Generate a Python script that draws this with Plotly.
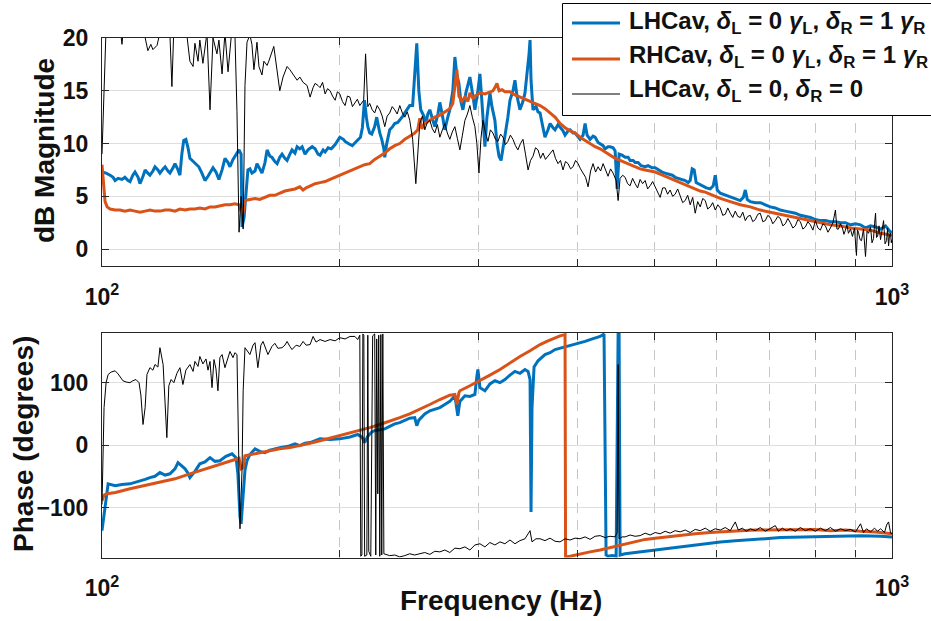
import plotly.graph_objects as go

# ---------------------------------------------------------------
# Measured frequency responses (Hz -> dB / degrees)
# ---------------------------------------------------------------
series_names = [
    "LHCav, <i>δ</i><sub>L</sub> = 0 <i>γ</i><sub>L</sub>, <i>δ</i><sub>R</sub> = 1 <i>γ</i><sub>R</sub>",
    "RHCav, <i>δ</i><sub>L</sub> = 0 <i>γ</i><sub>L</sub>, <i>δ</i><sub>R</sub> = 1 <i>γ</i><sub>R</sub>",
    "LHCav, <i>δ</i><sub>L</sub> = 0, <i>δ</i><sub>R</sub> = 0",
]

# --- LHCav, detuned right cavity: magnitude ---
f_mag_lh = [
    100.0, 101.2, 102.4, 103.3, 103.9, 104.8, 106.0, 106.9, 107.9, 108.5, 109.4, 110.1, 111.1, 111.7,
    112.7, 113.4, 114.3, 115.0, 116.0, 116.7, 117.7, 118.4, 119.5, 120.2, 121.2, 121.9, 123.0, 123.7,
    124.8, 125.5, 126.2, 126.9, 127.7, 128.5, 129.2, 130.4, 131.5, 132.6, 133.8, 135.0, 136.2, 137.0,
    138.2, 139.4, 140.6, 141.9, 143.1, 144.4, 145.2, 146.5, 147.8, 149.1, 150.0, 150.4, 151.3, 152.2,
    153.0, 153.9, 154.8, 156.2, 157.1, 158.4, 159.4, 160.8, 161.8, 163.1, 164.1, 165.5, 166.6, 167.9,
    169.0, 170.4, 171.5, 172.9, 174.0, 175.5, 176.6, 178.0, 179.2, 180.7, 182.3, 184.5, 186.1, 187.7,
    188.8, 190.5, 191.6, 193.3, 195.1, 197.3, 199.1, 200.0, 202.1, 203.1, 205.0, 207.4, 209.8, 212.4,
    213.6, 214.9, 216.1, 217.0, 218.2, 219.5, 221.4, 222.7, 224.7, 226.0, 227.4, 228.0, 229.3, 231.3,
    233.3, 234.7, 236.8, 238.2, 240.3, 241.7, 243.8, 245.2, 247.3, 248.8, 250.3, 251.8, 253.2, 255.5,
    257.0, 258.5, 260.0, 262.3, 263.8, 266.2, 267.7, 270.1, 271.6, 274.0, 275.6, 278.0, 279.7, 281.3,
    283.0, 284.6, 286.3, 288.8, 290.5, 292.2, 294.8, 296.5, 299.1, 300.9, 302.6, 304.4, 305.3, 307.1,
    309.8, 311.6, 314.3, 316.2, 318.1, 320.0, 321.8, 323.6, 326.4, 328.4, 331.3, 333.2, 335.2, 338.1,
    341.1, 343.1, 345.1, 347.2, 348.2, 349.2, 351.2, 354.3, 356.4, 358.5, 361.6, 363.7, 366.9, 369.1,
    372.3, 374.5, 377.8, 380.0, 383.3, 385.6, 389.0, 391.3, 394.7, 397.0, 400.5, 402.8, 406.4, 408.8,
    411.2, 414.8, 418.4, 420.9, 424.6, 427.1, 430.8, 433.3, 437.1, 439.7, 443.6, 446.2, 448.8, 451.4,
    455.4, 459.4, 463.4, 466.1, 470.2, 473.0, 477.1, 481.3, 487.0, 491.2, 497.0, 501.4, 505.8, 511.7,
    516.2, 520.8, 527.1, 531.5, 536.2, 542.5, 547.3, 552.1, 555.3, 558.6, 561.8, 565.1, 571.8, 576.9,
    582.0, 588.7, 593.9, 597.4, 600.9, 606.2, 611.5, 616.9, 624.1, 629.6, 635.2, 642.6, 648.3, 652.1,
    655.9, 661.6, 671.4, 681.2, 691.2, 701.4, 711.7, 722.2, 732.8, 743.6, 754.5, 765.6, 776.9, 788.3,
    799.9, 811.6, 823.6, 835.7, 848.0, 860.5, 873.1, 886.0, 899.0, 912.3, 925.7, 939.3, 953.2, 967.2,
    981.4, 995.9, 1000.0,
]
mag_lh = [
    7.3, 7.2, 7.0, 6.8, 6.5, 6.7, 6.6, 6.8, 6.5, 6.4, 7.0, 7.3, 6.8, 6.2,
    6.9, 7.5, 7.2, 7.0, 7.4, 7.8, 7.5, 7.2, 7.6, 7.8, 7.4, 7.2, 7.7, 8.1,
    7.5, 7.0, 9.0, 10.3, 10.4, 9.6, 8.6, 8.3, 8.0, 7.8, 7.2, 6.5, 6.9, 7.2,
    7.7, 7.3, 6.6, 7.5, 8.6, 8.2, 7.8, 8.5, 8.9, 9.4, 9.0, 2.1, 3.0, 5.5,
    7.5, 7.6, 7.2, 7.4, 8.1, 7.6, 7.2, 8.2, 9.4, 8.8, 8.7, 8.3, 8.1, 8.7,
    9.0, 8.6, 8.4, 9.0, 9.4, 9.1, 9.7, 9.5, 9.7, 9.0, 9.4, 9.7, 9.5, 9.0,
    8.9, 9.4, 9.2, 9.6, 9.5, 9.9, 10.3, 10.6, 10.4, 10.2, 10.0, 9.8, 10.2, 10.6,
    11.5, 14.1, 12.5, 11.6, 11.0, 10.9, 11.6, 12.5, 11.0, 10.4, 9.5, 8.7, 10.0, 11.3,
    11.6, 11.9, 12.0, 12.2, 12.6, 12.9, 13.3, 13.6, 13.6, 17.0, 19.5, 15.0, 13.2, 12.6,
    11.9, 12.8, 13.2, 12.2, 11.6, 12.8, 13.9, 12.4, 11.3, 12.5, 13.2, 15.0, 18.2, 16.5,
    15.7, 14.0, 13.2, 14.8, 15.5, 16.3, 14.5, 13.2, 15.0, 16.6, 14.0, 11.0, 9.7, 12.5,
    14.8, 13.5, 12.2, 10.0, 8.8, 8.4, 9.5, 10.4, 12.5, 14.1, 15.0, 16.0, 14.5, 13.2,
    14.0, 14.8, 16.5, 18.5, 19.8, 16.0, 13.2, 13.5, 13.0, 12.9, 11.5, 10.6, 11.3, 11.9,
    11.5, 11.3, 11.8, 11.6, 11.2, 10.8, 11.2, 11.3, 11.0, 11.0, 10.6, 10.4, 10.8, 11.9,
    10.8, 10.4, 10.7, 10.6, 10.1, 10.0, 9.8, 9.5, 9.7, 9.7, 9.6, 9.3, 5.7, 9.0,
    8.9, 8.7, 8.7, 8.4, 8.4, 8.2, 8.2, 7.9, 7.8, 7.9, 7.7, 7.7, 7.5, 7.3,
    7.2, 7.1, 7.0, 6.8, 6.7, 6.6, 6.5, 6.3, 6.5, 7.6, 7.5, 6.3, 6.1, 6.0,
    5.8, 5.7, 6.0, 7.0, 5.6, 5.3, 5.2, 5.1, 4.9, 4.8, 4.7, 4.6, 4.9, 5.6,
    4.7, 4.5, 4.4, 4.4, 4.2, 4.0, 3.9, 3.7, 3.6, 3.5, 3.4, 3.2, 3.1, 3.0,
    2.8, 2.7, 2.7, 2.6, 2.6, 2.5, 2.5, 2.3, 2.4, 2.3, 2.0, 2.2, 2.1, 1.9,
    2.2, 1.6, 1.7,
]

# --- RHCav, detuned right cavity: magnitude ---
f_mag_rh = [
    100.0, 100.3, 100.6, 100.9, 101.5, 102.4, 103.9, 105.4, 106.9, 108.5, 110.1, 111.7, 113.4, 115.0,
    116.7, 118.4, 120.2, 121.9, 123.7, 125.5, 127.4, 129.2, 131.1, 133.0, 135.0, 137.0, 139.0, 141.0,
    143.1, 145.2, 147.3, 149.1, 150.0, 150.9, 151.7, 153.9, 156.2, 158.4, 160.8, 163.1, 165.5, 167.9,
    170.4, 172.9, 175.5, 178.0, 179.7, 181.3, 183.4, 186.1, 188.8, 191.6, 194.4, 197.3, 200.0, 203.1,
    206.0, 209.0, 212.0, 215.0, 218.2, 221.4, 224.7, 228.0, 231.3, 234.7, 238.2, 241.7, 245.2, 248.8,
    251.0, 252.5, 254.0, 256.2, 260.0, 263.8, 267.7, 271.6, 275.6, 278.0, 279.7, 281.3, 283.0, 285.4,
    288.0, 290.5, 292.2, 294.8, 296.5, 300.9, 305.3, 309.8, 312.5, 314.3, 316.2, 318.1, 320.9, 323.6,
    328.4, 333.2, 338.1, 343.1, 348.2, 353.3, 358.5, 363.7, 369.1, 374.5, 380.0, 385.6, 391.3, 397.0,
    402.8, 408.8, 414.8, 420.9, 427.1, 433.3, 439.7, 446.2, 452.7, 459.4, 466.1, 473.0, 479.9, 487.0,
    494.1, 501.4, 508.8, 516.2, 523.8, 531.5, 539.3, 547.3, 555.3, 563.5, 571.8, 580.2, 588.7, 597.4,
    606.2, 624.1, 642.6, 661.6, 681.2, 701.4, 722.2, 743.6, 765.6, 788.3, 811.6, 835.7, 860.5, 886.0,
    912.3, 939.3, 967.2, 1000.0,
]
mag_rh = [
    8.0, 7.0, 5.5, 4.5, 4.0, 3.8, 3.7, 3.7, 3.6, 3.7, 3.6, 3.5, 3.6, 3.7,
    3.6, 3.6, 3.7, 3.7, 3.6, 3.8, 3.7, 3.8, 3.8, 3.9, 3.8, 4.0, 4.0, 4.1,
    4.2, 4.2, 4.3, 4.2, 3.6, 3.5, 4.6, 4.7, 4.8, 4.7, 4.9, 5.1, 5.1, 5.3,
    5.5, 5.6, 5.7, 5.9, 5.6, 5.8, 6.0, 6.2, 6.3, 6.4, 6.6, 6.8, 7.0, 7.2,
    7.4, 7.6, 7.8, 8.0, 8.1, 8.5, 8.8, 9.1, 9.5, 9.8, 10.0, 10.4, 10.7, 11.0,
    11.3, 12.4, 11.4, 11.9, 12.2, 12.5, 12.7, 13.0, 13.3, 13.8, 15.5, 17.0, 14.5, 14.0,
    14.4, 14.0, 14.8, 14.3, 14.5, 14.8, 14.7, 14.9, 15.0, 15.3, 15.7, 15.0, 15.1, 14.9,
    14.9, 14.6, 14.4, 14.2, 14.0, 13.8, 13.6, 13.3, 12.9, 12.5, 11.9, 11.5, 11.2, 11.0,
    10.6, 10.3, 10.0, 9.7, 9.5, 9.2, 8.9, 8.6, 8.4, 8.2, 8.0, 7.8, 7.6, 7.5,
    7.4, 7.3, 7.1, 6.9, 6.7, 6.5, 6.3, 6.1, 5.9, 5.7, 5.5, 5.4, 5.2, 5.0,
    4.8, 4.5, 4.2, 4.0, 3.7, 3.5, 3.3, 3.1, 2.9, 2.7, 2.5, 2.3, 2.2, 2.0,
    1.9, 1.8, 1.5, 1.3,
]

# --- LHCav, no detuning: magnitude ---
f_mag_lh0 = [
    100.0, 100.6, 101.2, 103.3, 105.4, 106.0, 106.6, 109.4, 112.7, 114.3, 115.3, 116.0, 117.4, 118.4,
    120.8, 121.9, 122.6, 123.3, 125.5, 128.1, 129.2, 130.4, 131.1, 132.3, 133.0, 134.2, 135.8, 137.0,
    138.2, 139.8, 140.6, 141.9, 143.1, 144.4, 146.1, 147.3, 148.2, 149.1, 150.0, 150.9, 151.7, 152.6,
    153.9, 154.8, 155.7, 157.1, 158.0, 159.4, 160.3, 161.8, 162.6, 165.0, 166.6, 167.9, 169.5, 171.5,
    172.9, 174.5, 176.6, 178.0, 179.7, 181.8, 183.4, 185.0, 186.1, 187.7, 188.8, 190.2, 191.6, 193.0,
    194.4, 195.8, 197.3, 198.6, 200.0, 201.5, 203.1, 204.5, 206.0, 207.5, 209.0, 210.5, 212.0, 214.4,
    215.6, 217.0, 218.2, 219.8, 221.4, 223.0, 224.7, 226.3, 228.0, 229.6, 231.3, 233.0, 234.7, 236.4,
    238.2, 240.0, 241.7, 243.5, 245.2, 247.3, 249.6, 251.0, 252.5, 254.4, 256.2, 258.1, 260.0, 261.9,
    263.8, 265.8, 267.7, 269.7, 271.6, 273.6, 275.6, 277.6, 279.7, 281.7, 283.8, 285.9, 288.0, 290.1,
    292.2, 294.3, 296.5, 298.2, 300.0, 301.8, 303.5, 305.8, 308.0, 310.2, 312.5, 314.8, 317.1, 319.5,
    321.8, 324.1, 326.4, 328.8, 331.3, 333.7, 336.1, 338.6, 341.1, 343.6, 346.2, 348.7, 351.2, 353.8,
    356.4, 359.0, 361.6, 364.2, 366.9, 369.6, 372.3, 375.0, 377.8, 380.5, 383.3, 386.1, 389.0, 391.8,
    394.7, 397.6, 400.5, 403.4, 406.4, 409.4, 412.4, 415.4, 418.4, 421.5, 424.6, 427.7, 430.8, 433.9,
    437.1, 440.3, 443.6, 447.5, 450.1, 452.7, 456.1, 459.4, 462.7, 466.1, 469.5, 473.0, 476.4, 479.9,
    483.4, 487.0, 490.6, 494.1, 497.8, 501.4, 505.1, 508.8, 512.5, 516.2, 520.0, 523.8, 527.6, 531.5,
    535.4, 539.3, 543.3, 547.3, 551.3, 555.3, 559.4, 563.5, 567.6, 571.8, 576.0, 580.2, 584.4, 588.7,
    593.0, 597.4, 601.8, 606.2, 610.6, 615.1, 619.6, 624.1, 628.7, 633.3, 637.9, 642.6, 647.3, 652.1,
    656.8, 661.6, 666.5, 671.4, 676.3, 681.2, 686.2, 691.2, 696.3, 701.4, 706.5, 711.7, 716.9, 722.2,
    727.5, 732.8, 738.2, 743.6, 749.0, 754.5, 760.0, 765.6, 771.2, 776.9, 782.6, 788.3, 794.1, 799.9,
    805.7, 811.6, 817.6, 823.6, 829.6, 835.7, 841.8, 848.0, 851.7, 855.5, 860.5, 865.5, 869.3, 873.1,
    876.9, 880.8, 886.0, 891.2, 896.4, 901.6, 904.2, 906.9, 911.0, 915.0, 920.3, 925.7, 929.8, 933.8,
    939.3, 943.4, 947.6, 950.4, 953.2, 955.9, 958.8, 963.0, 967.2, 971.5, 975.7, 980.0, 984.3, 987.2,
    990.1, 993.0, 995.9, 998.0, 1000.0,
]
mag_lh0 = [
    9.0, 15.0, 21.0, 22.0, 21.0, 19.4, 21.5, 23.0, 21.0, 18.8, 19.4, 18.9, 19.3, 20.5,
    22.0, 20.3, 15.4, 21.0, 22.0, 20.2, 17.8, 17.3, 19.5, 17.8, 19.8, 17.6, 20.5, 13.2,
    20.0, 18.5, 19.8, 16.6, 20.5, 16.8, 21.0, 20.5, 13.0, 1.6, 5.0, 1.9, 15.5, 19.6,
    20.3, 19.4, 17.0, 19.6, 17.3, 16.5, 17.8, 17.4, 17.8, 19.2, 17.0, 15.0, 16.3, 17.3,
    17.0, 16.6, 16.0, 16.3, 15.8, 15.5, 14.4, 15.3, 15.7, 15.5, 15.3, 15.8, 14.7, 15.2,
    15.0, 14.5, 14.1, 14.9, 14.7, 14.0, 13.6, 14.5, 14.4, 13.5, 13.8, 14.2, 13.6, 14.1,
    18.5, 13.5, 13.8, 13.2, 12.9, 13.6, 13.2, 12.6, 11.6, 12.6, 12.9, 13.5, 13.2, 12.8,
    13.6, 12.9, 12.5, 13.0, 12.2, 10.4, 6.2, 9.5, 11.9, 12.6, 11.3, 12.0, 12.2, 11.4,
    11.0, 11.8, 10.6, 11.3, 11.9, 11.0, 10.4, 11.1, 11.6, 10.5, 9.4, 10.8, 12.2, 12.8,
    13.6, 12.5, 11.6, 10.0, 7.2, 10.5, 12.2, 11.0, 10.2, 11.3, 11.0, 10.4, 10.2, 10.9,
    10.6, 9.9, 10.2, 10.8, 10.4, 9.8, 9.4, 10.0, 10.4, 9.0, 7.5, 8.4, 8.8, 9.6,
    9.4, 8.6, 9.1, 8.5, 8.8, 9.2, 9.4, 8.6, 8.1, 8.4, 7.5, 8.3, 8.1, 7.6,
    7.8, 8.4, 8.1, 7.6, 7.2, 6.8, 5.9, 7.4, 8.1, 7.3, 7.8, 7.4, 8.1, 7.4,
    6.9, 7.6, 7.2, 6.5, 4.6, 6.7, 7.0, 6.8, 6.2, 6.0, 6.7, 6.2, 5.8, 6.6,
    6.2, 6.5, 5.7, 6.0, 6.4, 5.9, 5.4, 4.9, 5.8, 5.8, 5.2, 5.6, 5.0, 5.2,
    5.7, 5.0, 4.4, 4.6, 5.1, 4.2, 4.9, 3.4, 4.5, 4.0, 4.8, 4.6, 3.8, 4.0,
    4.4, 3.7, 4.2, 3.9, 3.2, 3.3, 3.9, 3.4, 3.0, 3.6, 3.1, 3.0, 3.5, 2.7,
    3.1, 3.2, 2.6, 2.8, 3.3, 3.4, 2.6, 2.7, 3.2, 3.0, 2.4, 2.7, 3.1, 2.9,
    2.2, 2.4, 2.9, 2.5, 2.0, 2.2, 2.8, 2.6, 1.9, 2.1, 2.6, 2.3, 1.8, 2.7,
    2.0, 1.8, 2.4, 2.2, 1.6, 2.0, 2.5, 3.7, 1.9, 1.9, 2.4, 2.0, 1.4, 1.8,
    2.3, 1.5, 1.9, 1.2, 2.0, -0.6, 1.8, 1.6, 0.9, 0.8, 1.9, -0.7, 1.7, 1.5,
    2.1, 0.6, 1.0, 2.4, 3.4, 1.1, 1.2, 2.2, 0.9, 1.8, 2.7, 0.5, 0.8, 2.0,
    0.3, 1.4, 1.5, 0.6, 0.9,
]

# --- LHCav, detuned right cavity: phase ---
f_ph_lh = [
    100.0, 100.6, 101.2, 101.8, 103.9, 106.0, 108.5, 110.1, 111.7, 113.4, 115.0, 116.7, 118.4, 120.2,
    121.9, 123.7, 124.8, 126.2, 127.4, 128.5, 129.2, 131.1, 133.0, 135.0, 137.0, 139.0, 141.0, 143.5,
    146.1, 147.8, 148.6, 149.5, 150.0, 150.9, 151.7, 152.6, 153.9, 156.2, 158.4, 160.8, 163.1, 165.5,
    167.9, 172.0, 175.5, 178.0, 180.7, 183.4, 188.8, 194.4, 200.0, 206.0, 210.7, 213.6, 215.0, 217.0,
    219.5, 221.4, 224.7, 228.0, 231.3, 234.7, 238.2, 241.7, 245.2, 248.8, 250.3, 251.8, 256.2, 260.0,
    263.8, 267.7, 271.6, 275.6, 279.7, 281.3, 282.1, 283.8, 288.0, 292.2, 296.5, 298.2, 299.1, 300.9,
    305.3, 309.8, 314.3, 319.0, 323.6, 328.4, 333.2, 338.1, 343.1, 346.2, 348.2, 349.2, 350.2, 352.3,
    356.4, 363.7, 369.1, 374.5, 380.0, 385.6, 391.3, 397.0, 402.8, 408.8, 414.8, 420.9, 427.1, 432.0,
    434.6, 437.1, 442.3, 447.5, 450.1, 451.4, 452.7, 459.4, 466.1, 479.9, 494.1, 508.8, 523.8, 539.3,
    555.3, 571.8, 588.7, 606.2, 633.3, 661.6, 691.2, 722.2, 765.6, 811.6, 860.5, 912.3, 967.2, 1000.0,
]
ph_lh = [
    -137, -110, -80, -62, -65, -63, -62, -60, -57, -55, -52, -50, -44, -48,
    -46, -38, -28, -33, -38, -45, -52, -42, -30, -27, -20, -26, -25, -18,
    -14, -20, -46, -115, -126, -80, -40, -25, -15, -6, -10, -12, -8, -6,
    -4, -2, 2, -1, 3, 4, 10, 9, 10, 13, 17, 12, 4, 14,
    21, 23, 24, 26, 30, 34, 36, 40, 43, 44, 31, 40, 50, 55,
    57, 60, 65, 70, 79, 60, 47, 70, 79, 78, 81, 110, 121, 92,
    87, 98, 103, 100, 105, 112, 118, 115, 121, 118, 105, -107, 60, 125,
    135, 145, 148, 153, 155, 158, 160, 161, 164, 166, 169, 172, 174, 178,
    -176, -178, -177, -178, 178, 178, -176, -174, -173, -171, -169, -167, -164, -163,
    -160, -159, -157, -155, -153, -152, -150, -148, -147, -146, -145, -145, -146, -147,
]

# --- RHCav, detuned right cavity: phase ---
f_ph_rh = [
    100.0, 100.6, 101.5, 104.0, 108.5, 113.4, 118.4, 123.7, 129.2, 135.0, 141.0, 145.2, 149.1, 150.0,
    150.9, 151.7, 158.4, 163.1, 167.9, 173.0, 178.0, 183.4, 188.8, 194.4, 200.0, 206.0, 212.0, 218.2,
    224.7, 231.3, 238.2, 245.2, 252.5, 260.0, 267.7, 275.6, 279.7, 281.3, 283.0, 283.8, 292.2, 300.9,
    309.8, 319.0, 328.4, 338.1, 348.2, 358.5, 366.9, 374.5, 380.0, 385.6, 386.2, 391.3, 402.8, 414.8,
    427.1, 437.1, 448.8, 459.4, 473.0, 487.0, 501.4, 516.2, 539.3, 563.5, 588.7, 615.1, 642.6, 671.4,
    701.4, 732.8, 765.6, 799.9, 835.7, 873.1, 912.3, 953.2, 1000.0,
]
ph_rh = [
    -89, -80, -78, -76, -70, -65, -60, -54, -46, -38, -30, -25, -21, -38,
    -36, -17, -12, -9, -6, -4, -1, 3, 7, 11, 15, 19, 23, 28,
    33, 38, 44, 50, 57, 65, 73, 80, 81, 65, 84, 87, 95, 103,
    112, 121, 132, 142, 151, 161, 167, 172, 175, 177, -179, -178, -174, -171,
    -168, -165, -161, -158, -154, -151, -149, -147, -145, -142, -140, -138, -137, -136,
    -136, -135, -136, -135, -137, -136, -138, -139, -142,
]

# --- LHCav, no detuning: phase ---
f_ph_lh0 = [
    100.0, 100.6, 101.2, 101.8, 102.7, 103.9, 104.8, 105.4, 106.3, 107.3, 108.5, 109.4, 110.4, 111.4,
    112.0, 112.7, 113.4, 114.0, 115.0, 116.0, 116.7, 117.7, 118.4, 119.5, 120.2, 120.8, 121.5, 122.3,
    123.3, 124.4, 125.5, 126.6, 127.7, 129.2, 130.4, 131.1, 132.3, 133.0, 134.2, 135.4, 136.2, 137.0,
    137.8, 138.6, 139.4, 140.2, 141.0, 141.9, 143.1, 144.4, 145.2, 146.5, 147.3, 148.2, 148.6, 149.5,
    150.4, 150.9, 151.7, 153.0, 153.9, 155.3, 156.2, 157.5, 158.9, 159.9, 161.3, 162.2, 164.1, 165.5,
    167.0, 169.0, 170.4, 171.5, 172.9, 174.0, 176.1, 178.0, 179.7, 181.3, 183.4, 185.0, 186.6, 188.8,
    191.6, 194.4, 197.3, 200.0, 203.1, 206.0, 209.0, 210.7, 212.0, 212.6, 213.3, 213.9, 214.5, 215.0,
    216.4, 217.0, 217.6, 218.9, 220.1, 221.4, 222.1, 222.7, 223.4, 224.0, 224.7, 225.4, 226.0, 226.7,
    227.4, 228.6, 231.3, 234.7, 238.2, 241.7, 245.2, 248.8, 252.5, 256.2, 260.0, 263.8, 267.7, 271.6,
    275.6, 279.7, 283.8, 288.0, 292.2, 296.5, 300.9, 305.3, 309.8, 314.3, 319.0, 323.6, 328.4, 333.2,
    338.1, 343.1, 348.2, 350.2, 354.3, 358.5, 363.7, 369.1, 374.5, 380.0, 385.6, 391.3, 397.0, 402.8,
    408.8, 414.8, 420.9, 427.1, 433.3, 439.7, 446.2, 448.8, 450.1, 451.4, 455.4, 459.4, 466.1, 473.0,
    479.9, 487.0, 494.1, 501.4, 508.8, 516.2, 523.8, 531.5, 539.3, 547.3, 555.3, 563.5, 571.8, 580.2,
    588.7, 597.4, 606.2, 615.1, 624.1, 633.3, 638.9, 646.4, 654.0, 661.6, 671.4, 681.2, 691.2, 701.4,
    711.7, 718.0, 726.4, 735.0, 743.6, 754.5, 765.6, 776.9, 788.3, 799.9, 811.6, 823.6, 835.7, 848.0,
    860.5, 873.1, 886.0, 899.0, 912.3, 920.3, 928.4, 939.3, 950.4, 958.8, 967.2, 978.5, 984.3, 990.1,
    995.9, 1000.0,
]
ph_lh0 = [
    -95, 60, 100, 113, 117, 119, 114, 110, 103, 101, 100, 103, 105, 100,
    80, 33, 60, 113, 124, 120, 129, 125, 156, 129, 60, 12, 95, 105,
    100, 115, 124, 97, 120, 129, 118, 134, 126, 142, 130, 138, 120, 134,
    92, 137, 122, 87, 140, 145, 124, 140, 150, 140, 148, 145, 76, -134,
    -40, 87, 156, 150, 145, 160, 164, 124, 160, 166, 152, 145, 158, 163,
    155, 156, 160, 166, 158, 153, 160, 158, 166, 160, 161, 174, 165, 169,
    166, 169, 167, 172, 170, 174, 174, 169, 176, -178, -176, 178, 176, -178,
    -176, 176, -170, -178, 175, 178, -176, 170, -78, 176, -178, 177, -176, 178,
    -174, -175, -177, -176, -179, -177, -174, -176, -174, -172, -175, -170, -171, -168,
    -172, -165, -166, -163, -168, -160, -158, -163, -156, -160, -155, -158, -152, -158,
    -153, -150, -137, -155, -150, -150, -153, -149, -154, -155, -150, -152, -149, -150,
    -147, -151, -146, -145, -148, -146, -147, -140, 129, -150, -147, -147, -144, -146,
    -145, -141, -144, -140, -142, -138, -141, -137, -139, -136, -140, -135, -137, -133,
    -138, -134, -136, -132, -137, -123, -136, -133, -138, -134, -137, -132, -138, -134,
    -129, -138, -133, -137, -134, -138, -132, -137, -134, -138, -133, -137, -132, -138,
    -134, -137, -135, -139, -126, -140, -134, -139, -133, -138, -134, -140, -128, -123,
    -141, -142,
]

# Axis tick positions / labels
freq_major = [100, 1000]
freq_major_text = ["10<sup>2</sup>", "10<sup>3</sup>"]
freq_minor = [200, 300, 400, 500, 600, 700, 800, 900]
mag_ticks = [0, 5, 10, 15, 20]
phase_ticks = [-100, 0, 100]

for a, b in [(f_mag_lh, mag_lh), (f_mag_rh, mag_rh), (f_mag_lh0, mag_lh0),
             (f_ph_lh, ph_lh), (f_ph_rh, ph_rh), (f_ph_lh0, ph_lh0)]:
    assert len(a) == len(b), (len(a), len(b))

# ---------------------------------------------------------------
# Styling
# ---------------------------------------------------------------
W, H = 931, 621
BLUE = "#0072BD"
ORANGE = "#D95319"
BLACK = "#000000"
AXIS = "#262626"
FONT = "Liberation Sans, Arial, Helvetica, sans-serif"


def px_x(p):
    return p / W


def px_y(p):
    return 1 - p / H


fig = go.Figure()

styles = [(BLUE, 3), (ORANGE, 3), (BLACK, 1)]
mag_data = [(f_mag_lh, mag_lh), (f_mag_rh, mag_rh), (f_mag_lh0, mag_lh0)]
ph_data = [(f_ph_lh, ph_lh), (f_ph_rh, ph_rh), (f_ph_lh0, ph_lh0)]

for (f, v), (c, w), name in zip(mag_data, styles, series_names):
    fig.add_trace(go.Scatter(x=f, y=v, mode="lines", name=name, showlegend=False,
                             line=dict(color=c, width=w), xaxis="x", yaxis="y"))
for (f, v), (c, w), name in zip(ph_data, styles, series_names):
    fig.add_trace(go.Scatter(x=f, y=v, mode="lines", name=name, showlegend=False,
                             line=dict(color=c, width=w), xaxis="x2", yaxis="y2"))

tickfont = dict(family=FONT, size=23, color="#111111", weight="bold")
x_common = dict(
    type="log", range=[2, 3], domain=[px_x(102), px_x(892)],
    tickmode="array", tickvals=freq_major, ticktext=freq_major_text, tickfont=tickfont,
    ticks="inside", ticklen=7, tickwidth=1, tickcolor=AXIS,
    showline=True, linecolor=AXIS, linewidth=1.2, mirror="ticks",
    showgrid=False, zeroline=False, automargin=False, ticklabelstandoff=10,
    minor=dict(tickmode="array", tickvals=freq_minor, ticks="inside", ticklen=7,
               tickwidth=1, tickcolor=AXIS, showgrid=True, gridcolor="#c6c6c6",
               gridwidth=1, griddash="10px,7px"),
)
y_common = dict(
    tickfont=tickfont, ticks="inside", ticklen=7, tickwidth=1, tickcolor=AXIS,
    showline=True, linecolor=AXIS, linewidth=1.2, mirror="ticks",
    showgrid=True, gridcolor="#dedede", gridwidth=1,
    zeroline=False, automargin=False, ticklabelstandoff=8,
)

fig.update_layout(
    width=W, height=H,
    margin=dict(l=0, r=0, t=0, b=0),
    template="none",
    paper_bgcolor="white", plot_bgcolor="white",
    showlegend=False,
    xaxis=dict(anchor="y", **x_common),
    xaxis2=dict(anchor="y2", **x_common),
    yaxis=dict(anchor="x", domain=[px_y(266), px_y(38)], range=[-1.6, 20],
               tickvals=mag_ticks, **y_common),
    yaxis2=dict(anchor="x2", domain=[px_y(557.5), px_y(332.7)], range=[-180, 180],
                tickvals=phase_ticks, **y_common),
)

title_font = dict(family=FONT, size=28, color="#111111", weight="bold")
fig.add_annotation(text="dB Magnitude", x=px_x(45), y=px_y(151), xref="paper", yref="paper",
                   textangle=-90, showarrow=False, font=title_font,
                   xanchor="center", yanchor="middle")
fig.add_annotation(text="Phase (degrees)", x=px_x(23), y=px_y(444), xref="paper", yref="paper",
                   textangle=-90, showarrow=False, font=title_font,
                   xanchor="center", yanchor="middle")
fig.add_annotation(text="Frequency (Hz)", x=px_x(501), y=px_y(600), xref="paper", yref="paper",
                   showarrow=False, font=title_font, xanchor="center", yanchor="middle")

# Legend box (partly beyond the right edge of the figure)
fig.add_shape(type="rect", xref="paper", yref="paper",
              x0=px_x(562.5), x1=px_x(990), y0=px_y(115.5), y1=px_y(3.5),
              fillcolor="white", line=dict(color=BLACK, width=1), layer="above")
legend_rows_y = [23, 59, 94]
legend_text_y = [22, 57, 91]
leg_font = dict(family=FONT, size=24, color="#111111", weight="bold")
for (c, w), name, ly, ty in zip(styles, series_names, legend_rows_y, legend_text_y):
    fig.add_shape(type="line", xref="paper", yref="paper",
                  x0=px_x(572), x1=px_x(620), y0=px_y(ly), y1=px_y(ly),
                  line=dict(color=c, width=w), layer="above")
    fig.add_annotation(text=name, x=px_x(627), y=px_y(ty), xref="paper", yref="paper",
                       showarrow=False, font=leg_font, xanchor="left", yanchor="middle",
                       align="left")

fig.write_html("out.html")
